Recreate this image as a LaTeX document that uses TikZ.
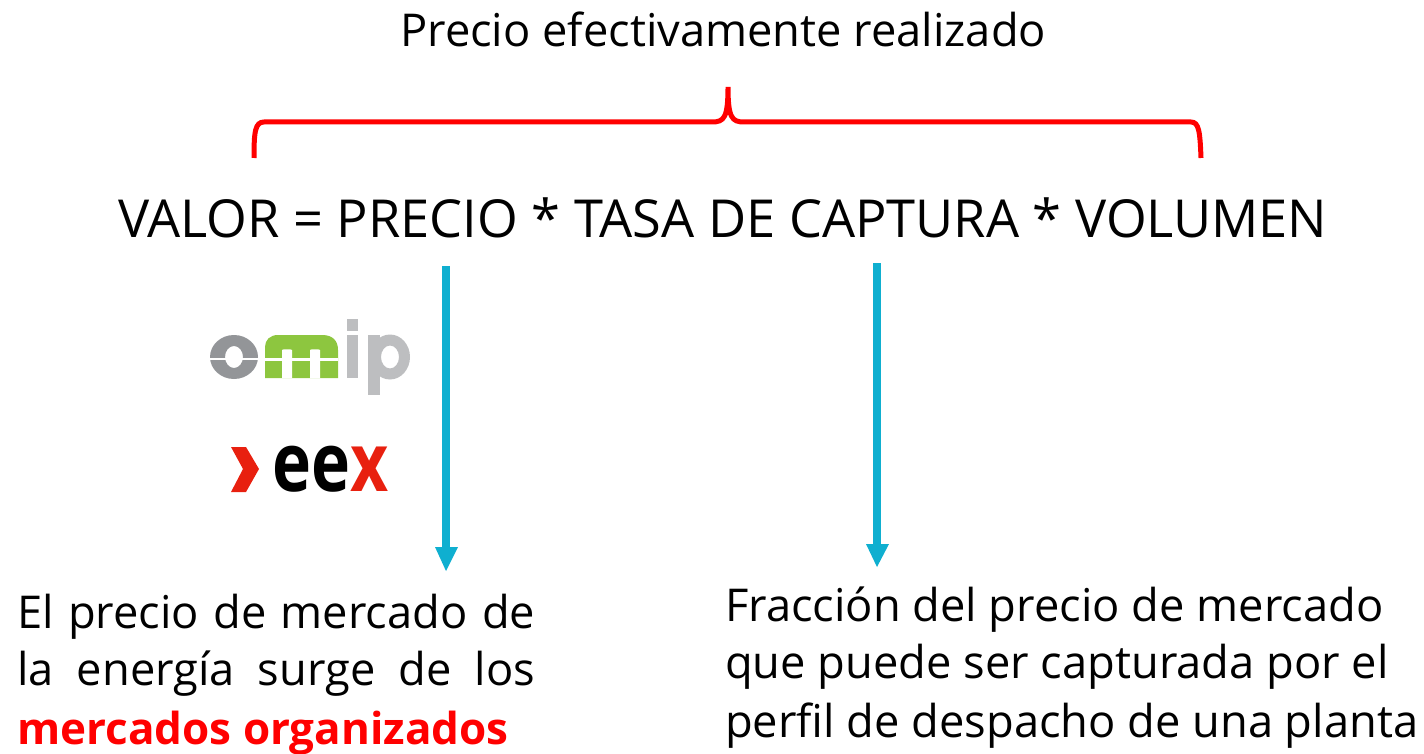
\documentclass[tikz,border=0pt]{standalone}
\usepackage{fontspec}
\setmainfont{Open Sans}
\definecolor{arrowblue}{HTML}{0FAFD0}
\definecolor{bracered}{HTML}{FF0000}
\definecolor{omipgray}{HTML}{939598}
\definecolor{omiplight}{HTML}{BDBEC0}
\definecolor{omipgreen}{HTML}{8DC63F}
\definecolor{eexred}{HTML}{E8200F}
\tikzset{
 txt/.style={inner sep=0pt,anchor=base west,font=\fontsize{45.25}{45}\selectfont},
 flow/.style={draw=arrowblue,line width=8pt},
}
\begin{document}
\begin{tikzpicture}[x=1pt,y=-1pt]
\useasboundingbox (0,0) rectangle (1424,754);
\node[txt] (title) at (400,47) {Precio efectivamente realizado};
\node[txt,font=\fontsize{52.35}{52}\selectfont] (eq) at (118,237) {VALOR = PRECIO * TASA DE CAPTURA * VOLUMEN};
\draw[bracered,line width=5pt] (254,158) .. controls (254,132) and (255,122) .. (264,122) -- (712,122) .. controls (724,122) and (728,118) .. (728,87) .. controls (728,118) and (732,122) .. (744,122) -- (1191,122) .. controls (1199,122) and (1200,132) .. (1201,158);
\coordinate (a1) at (446,266); \coordinate (a2) at (446,571);
\coordinate (b1) at (877,263); \coordinate (b2) at (877,567);
\draw[flow] (a1) -- (446,548);
\fill[arrowblue] (435,547) -- (458,547) -- (a2) -- cycle;
\draw[flow] (b1) -- (877,545);
\fill[arrowblue] (866,544) -- (889,544) -- (b2) -- cycle;
% omip: o
\fill[omipgray,even odd rule] (234,357) ellipse (24pt and 22pt) (234,357) ellipse (9pt and 11pt);
\fill[white] (209,357.5) rectangle (227,360);
\fill[white] (241,357.5) rectangle (259,360);
% m
\fill[omipgreen] (265,347) .. controls (265,340) and (270,335) .. (278,335) -- (322,335) .. controls (333,335) and (338,341) .. (338,350) -- (338,378) -- (265,378) -- cycle;
\fill[white] (282,350) .. controls (282,349) and (292,349) .. (292,350) -- (292,378) -- (282,378) -- cycle;
\fill[white] (310,350) .. controls (310,349) and (320,349) .. (320,350) -- (320,378) -- (310,378) -- cycle;
\fill[white] (265,358) rectangle (338,360.5);
% i p
\fill[omiplight] (347,319) rectangle (358,331);
\fill[omiplight] (347,335) rectangle (358,378);
\fill[omiplight] (368,335) rectangle (380,395);
\fill[omiplight,even odd rule] (390,357) ellipse (20pt and 22.5pt) (390,357) ellipse (9pt and 11.5pt);
% eex
\fill[eexred] (231,447) -- (246,447) -- (259,469) -- (246,492) -- (231,492) -- (243,469) -- cycle;
\node[inner sep=0pt,anchor=base west,font=\fontsize{60}{60}\selectfont\bfseries] (eex) at (272,491) {\scalebox{1.1}[1.36]{ee\textcolor{eexred}{x}}};
% left text
\node[txt] (l1) at (17,628) {\makebox[518pt][s]{El precio de mercado de}};
\node[txt] (l2) at (17,685) {\makebox[518pt][s]{la energía surge de los}};
\node[txt,text=bracered,font=\fontsize{44}{44}\selectfont\bfseries] (l3) at (17,744) {mercados organizados};
\node[txt] (r1) at (725,621) {Fracción del precio de mercado};
\node[txt] (r2) at (725,678) {que puede ser capturada por el};
\node[txt] (r3) at (725,737) {perfil de despacho de una planta};
\end{tikzpicture}
\end{document}
